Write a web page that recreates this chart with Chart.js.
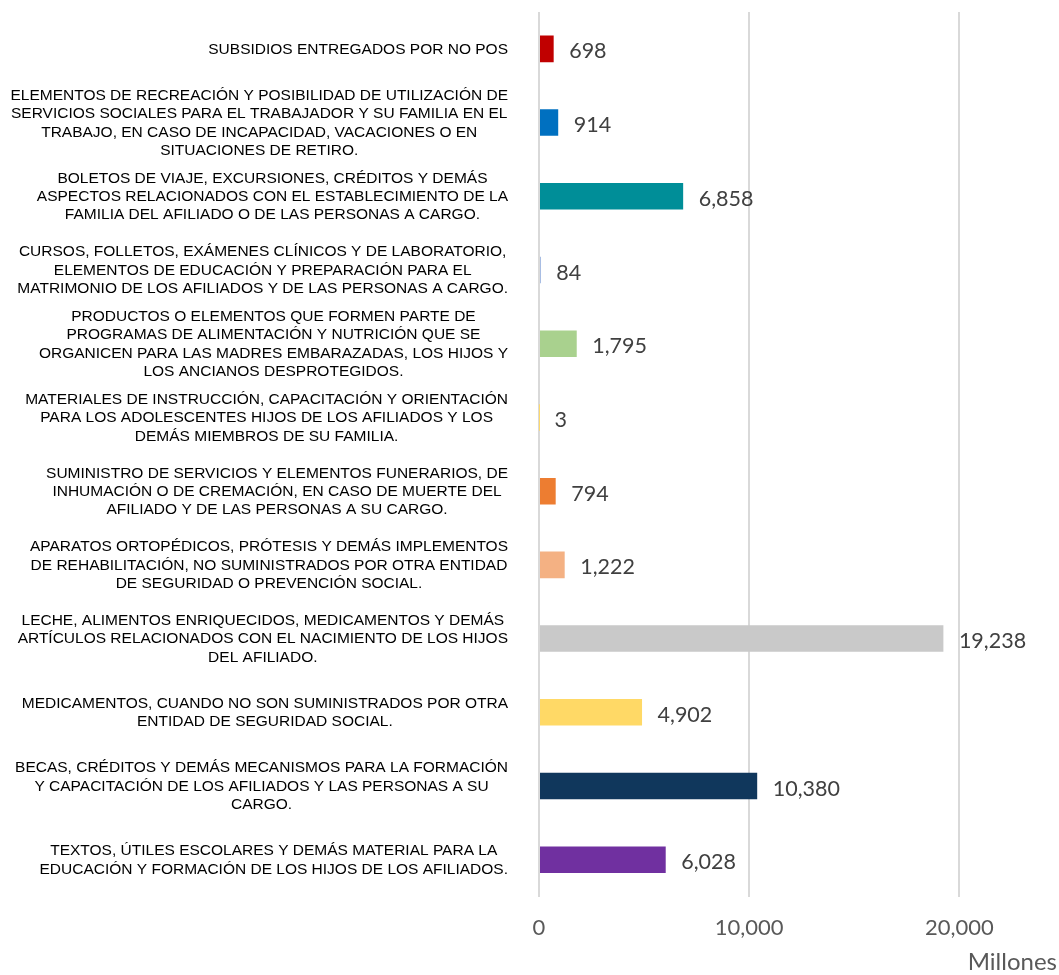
<!DOCTYPE html>
<html>
<head>
<meta charset="utf-8">
<script src="https://cdn.jsdelivr.net/npm/chart.js@4.4.1/dist/chart.umd.min.js"></script>
<style>
html,body{margin:0;padding:0;background:#fff;}
#wrap{width:1059px;height:975px;position:relative;}
</style>
</head>
<body>
<div id="wrap"><canvas id="c" width="1059" height="975"></canvas></div>
<script>
const categories = [
  ["SUBSIDIOS ENTREGADOS POR NO POS"],
  ["ELEMENTOS DE RECREACIÓN Y POSIBILIDAD DE UTILIZACIÓN DE","SERVICIOS SOCIALES PARA EL TRABAJADOR Y SU FAMILIA EN EL","TRABAJO, EN CASO DE INCAPACIDAD, VACACIONES O EN","SITUACIONES DE RETIRO."],
  ["BOLETOS DE VIAJE, EXCURSIONES, CRÉDITOS Y DEMÁS","ASPECTOS RELACIONADOS CON EL ESTABLECIMIENTO DE LA","FAMILIA DEL AFILIADO O DE LAS PERSONAS A CARGO."],
  ["CURSOS, FOLLETOS, EXÁMENES CLÍNICOS Y DE LABORATORIO,","ELEMENTOS DE EDUCACIÓN Y PREPARACIÓN PARA EL","MATRIMONIO DE LOS AFILIADOS Y DE LAS PERSONAS A CARGO."],
  ["PRODUCTOS O ELEMENTOS QUE FORMEN PARTE DE","PROGRAMAS DE ALIMENTACIÓN Y NUTRICIÓN QUE SE","ORGANICEN PARA LAS MADRES EMBARAZADAS, LOS HIJOS Y","LOS ANCIANOS DESPROTEGIDOS."],
  ["MATERIALES DE INSTRUCCIÓN, CAPACITACIÓN Y ORIENTACIÓN","PARA LOS ADOLESCENTES HIJOS DE LOS AFILIADOS Y LOS","DEMÁS MIEMBROS DE SU FAMILIA."],
  ["SUMINISTRO DE SERVICIOS Y ELEMENTOS FUNERARIOS, DE","INHUMACIÓN O DE CREMACIÓN, EN CASO DE MUERTE DEL","AFILIADO Y DE LAS PERSONAS A SU CARGO."],
  ["APARATOS ORTOPÉDICOS, PRÓTESIS Y DEMÁS IMPLEMENTOS","DE REHABILITACIÓN, NO SUMINISTRADOS POR OTRA ENTIDAD","DE SEGURIDAD O PREVENCIÓN SOCIAL."],
  ["LECHE, ALIMENTOS ENRIQUECIDOS, MEDICAMENTOS Y DEMÁS","ARTÍCULOS RELACIONADOS CON EL NACIMIENTO DE LOS HIJOS","DEL AFILIADO."],
  ["MEDICAMENTOS, CUANDO NO SON SUMINISTRADOS POR OTRA","ENTIDAD DE SEGURIDAD SOCIAL."],
  ["BECAS, CRÉDITOS Y DEMÁS MECANISMOS PARA LA FORMACIÓN","Y CAPACITACIÓN DE LOS AFILIADOS Y LAS PERSONAS A SU","CARGO."],
  ["TEXTOS, ÚTILES ESCOLARES Y DEMÁS MATERIAL PARA LA","EDUCACIÓN Y FORMACIÓN DE LOS HIJOS DE LOS AFILIADOS."]
];
const values = [698, 914, 6858, 84, 1795, 3, 794, 1222, 19238, 4902, 10380, 6028];
const barColors = ["#C00000","#0070C0","#008E98","#8EA9DB","#A9D18E","#FFD966","#ED7D31","#F4B183","#C9C9C9","#FFD966","#10375C","#7030A0"];
const xTicks = [0, 10000, 20000];
const axisTitle = "Millones";

const fmt = v => v.toLocaleString('en-US');

const labelPlugin = {
  id: 'sideLabels',
  afterDraw(chart) {
    const ctx = chart.ctx;
    const ys = chart.scales.y;
    const xs = chart.scales.x;
    ctx.save();
    // category labels
    ctx.font = '15.5px "Liberation Sans", Arial, sans-serif';
    ctx.fillStyle = '#000000';
    ctx.textAlign = 'center';
    ctx.textBaseline = 'middle';
    const lh = 18.4;
    const rightEdge = 508;
    categories.forEach((lines, i) => {
      const yc = ys.getPixelForValue(i);
      const maxW = Math.max(...lines.map(l => ctx.measureText(l).width));
      const cx = rightEdge - maxW / 2;
      const y0 = yc - (lines.length - 1) * lh / 2;
      lines.forEach((l, k) => ctx.fillText(l, cx, y0 + k * lh + 0.5));
    });
    // value labels
    ctx.font = '21.5px Lato, "Open Sans", sans-serif';
    ctx.fillStyle = '#404040';
    ctx.textAlign = 'left';
    ctx.textBaseline = 'alphabetic';
    values.forEach((v, i) => {
      const yc = ys.getPixelForValue(i);
      const xe = xs.getPixelForValue(v);
      ctx.fillText(fmt(v), xe + 15.5, yc + 9.5);
    });
    // axis title
    ctx.font = '24px Lato, "Open Sans", sans-serif';
    ctx.fillStyle = '#595959';
    ctx.textAlign = 'right';
    ctx.textBaseline = 'middle';
    ctx.fillText(axisTitle, 1057, 962);
    ctx.restore();
  }
};

new Chart(document.getElementById('c'), {
  type: 'bar',
  data: {
    labels: categories.map(l => l.join(' ')),
    datasets: [{
      data: values,
      backgroundColor: barColors,
      borderWidth: 0,
      categoryPercentage: 1,
      barPercentage: 0.36
    }]
  },
  options: {
    indexAxis: 'y',
    responsive: false,
    animation: false,
    devicePixelRatio: 1,
    layout: { padding: { left: 539, right: 5, top: 12, bottom: 16 } },
    plugins: { legend: { display: false }, tooltip: { enabled: false } },
    scales: {
      y: { display: false },
      x: {
        min: 0,
        max: 24500,
        afterBuildTicks: (axis) => { axis.ticks = xTicks.map(v => ({ value: v })); },
        grid: { color: '#D9D9D9', lineWidth: 2, drawTicks: false },
        border: { display: false },
        ticks: {
          padding: 18,
          color: '#595959',
          font: { family: 'Lato, "Open Sans", sans-serif', size: 22 },
          callback: (v) => fmt(v),
          maxRotation: 0
        },
        title: { display: false }
      }
    }
  },
  plugins: [labelPlugin]
});
</script>
</body>
</html>
